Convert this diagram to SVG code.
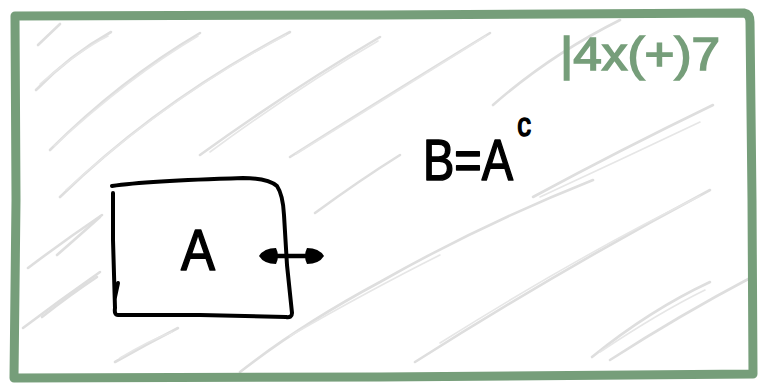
<svg xmlns="http://www.w3.org/2000/svg" width="759" height="383" viewBox="0 0 759 383">
<style>
.h{fill:none;stroke:#dedede;stroke-width:2.6;stroke-linecap:round;stroke-linejoin:round}
.h2{fill:none;stroke:#e6e6e6;stroke-width:1.6;stroke-linecap:round}
.frame{fill:none;stroke:#769e7a;stroke-width:9;stroke-linecap:round;stroke-linejoin:round}
.ink{fill:none;stroke:#000;stroke-width:4;stroke-linecap:round;stroke-linejoin:round}
.hand{font-family:"Liberation Sans","DejaVu Sans",sans-serif;fill:#000;stroke:#000;stroke-width:1.6;stroke-linejoin:round}
.head{fill:#000}
</style>
<rect width="759" height="383" fill="#fff"/>
<g id="hatching">
<path class="h" d="M38,45 L60,24"/>
<path class="h" d="M36,90 Q70,55 111,32"/><path class="h2" d="M40,84 Q80,50 108,36"/>
<path class="h" d="M50,150 Q120,80 200,33"/><path class="h2" d="M54,146 Q130,76 198,36"/>
<path class="h" d="M60,197 Q160,100 290,32"/><path class="h2" d="M66,190 Q170,96 286,35"/>
<path class="h" d="M200,155 Q290,90 380,37"/><path class="h2" d="M210,152 Q300,86 378,41"/>
<path class="h" d="M290,157 Q380,100 490,33"/><path class="h2" d="M296,154 Q390,96 486,36"/>
<path class="h" d="M493,105 Q550,55 620,20"/>
<path class="h" d="M315,213 Q360,180 400,155"/>
<path class="h" d="M28,268 Q65,240 102,215"/><path class="h" d="M57,255 Q80,235 100,217"/>
<path class="h" d="M23,328 Q60,300 100,272"/><path class="h" d="M42,317 Q70,295 97,277"/>
<path class="h" d="M115,362 Q145,345 178,328"/><path class="h2" d="M120,358 Q150,340 172,332"/>
<path class="h" d="M240,372 Q300,325 380,282 Q480,225 593,180"/><path class="h2" d="M290,336 Q370,290 440,255"/>
<path class="h" d="M533,197 Q620,150 713,105"/><path class="h2" d="M540,197 Q620,160 700,122"/>
<path class="h" d="M415,362 Q560,270 710,190"/><path class="h2" d="M440,343 Q580,255 700,196"/>
<path class="h" d="M592,357 Q650,310 710,282"/><path class="h2" d="M600,352 Q660,312 705,290"/>
<path class="h" d="M610,360 Q680,315 752,277"/>
</g>
<g id="frame">
<path class="frame" d="M15,16 L380,15 L744,13 Q750,14 750,22 L752,200 L753,374 L380,377 L14,378 L16,200 Z"/>
</g>
<g id="label-green">
<text x="560" y="70" font-family="'Liberation Sans','DejaVu Sans',sans-serif" font-size="46" fill="#769e7a" stroke="#769e7a" stroke-width="1.6" textLength="160" lengthAdjust="spacingAndGlyphs">|4x(+)7</text>
</g>
<g id="label-B">
<text class="hand" transform="translate(423,180) scale(0.81,1)" x="0" y="0" font-size="58">B=A<tspan dx="5" dy="-44" font-size="34">c</tspan></text>
</g>
<g id="node-A">
<path class="ink" d="M112,186 Q145,181 243,178 Q268,178 277,186 Q283,195 284,215 L287,265 L292,313 Q292,318 286,317 L200,315 L118,315 Q114,315 115,308 L113,240 L113,193"/>
<path class="ink" d="M118,283 L115,297"/>
<text class="hand" x="181" y="270" font-size="58" textLength="34" lengthAdjust="spacingAndGlyphs">A</text>
</g>
<g id="connectors">
<path d="M268,256 L316,256" stroke="#000" stroke-width="4.5" fill="none"/>
<path class="head" d="M259,256 Q264,248 276,248 Q280,256 276,264 Q264,264 259,256 Z"/>
<path class="head" d="M324,256 Q319,248 307,248 Q303,256 307,264 Q319,264 324,256 Z"/>
</g>
</svg>
